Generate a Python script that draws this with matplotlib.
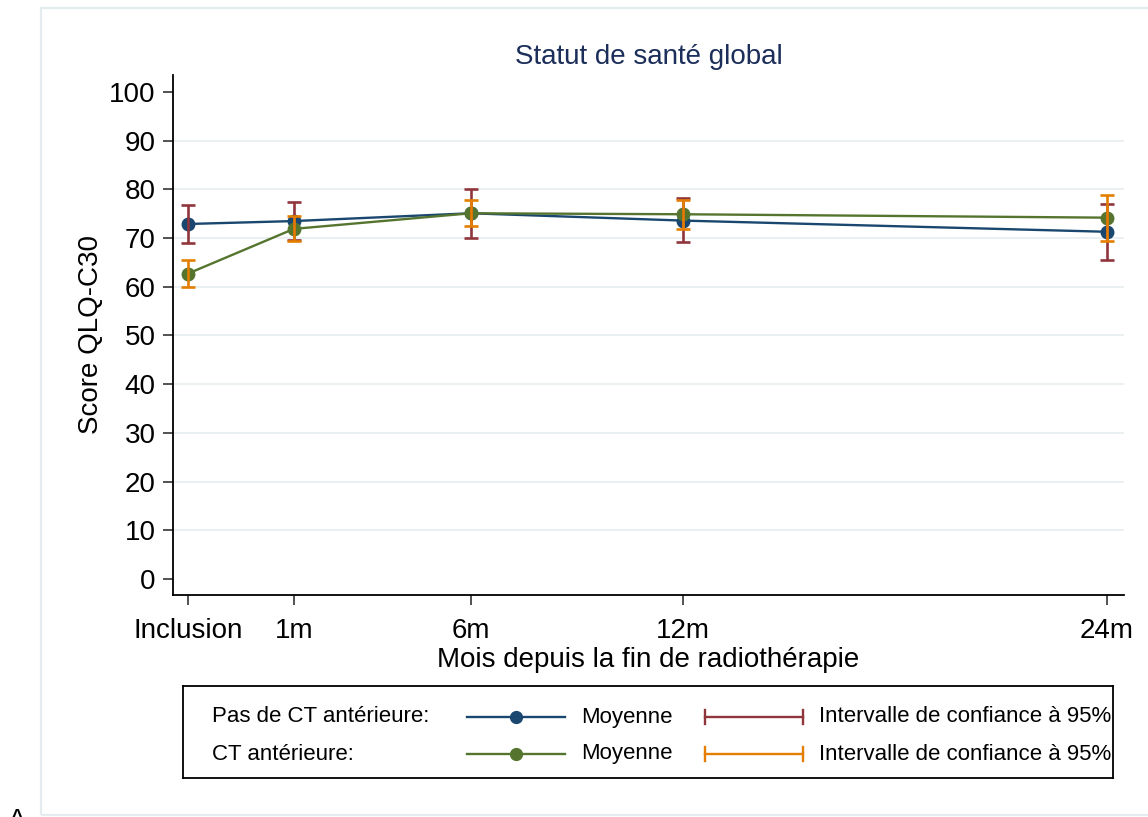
import matplotlib
matplotlib.use("Agg")
import matplotlib.pyplot as plt
from matplotlib.patches import Rectangle
import numpy as np

plt.rcParams['font.family'] = ['Liberation Sans', 'DejaVu Sans']

# data
mois = [-2, 1, 6, 12, 24]
tick_labels = ["Inclusion", "1m", "6m", "12m", "24m"]

# Pas de CT antérieure
moy_sans = [72.9, 73.5, 75.1, 73.6, 71.3]
ic_bas_sans = [68.9, 69.6, 70.0, 69.1, 65.5]
ic_haut_sans = [76.9, 77.4, 80.1, 78.2, 77.1]

# CT antérieure
moy_ct = [62.7, 71.9, 75.1, 74.9, 74.2]
ic_bas_ct = [60.0, 69.5, 72.5, 71.9, 69.5]
ic_haut_ct = [65.5, 74.5, 77.8, 77.8, 78.9]

navy = "#1a476f"
green = "#55752f"
maroon = "#90353b"
orange = "#e37e00"
grid_col = "#eaf0f2"

W, H = 1148, 817
fig = plt.figure(figsize=(W / 100, H / 100), dpi=100)

# outer graph region border
fig.patches.append(Rectangle((41 / W, 1 - 815 / H), 1.2, (815 - 8) / H,
                             transform=fig.transFigure, fill=False,
                             edgecolor="#e4ecf0", lw=1.6))

ax = fig.add_axes([173 / W, 1 - 595 / H, (1124 - 173) / W, (595 - 75) / H])

ax.plot(mois, moy_sans, color=navy, lw=1.7, marker="o", ms=9, zorder=3)
ax.plot(mois, moy_ct, color=green, lw=1.7, marker="o", ms=9, zorder=3)

def rcap(x, lo, hi, col):
    x = np.asarray(x, dtype=float)
    lo = np.asarray(lo)
    hi = np.asarray(hi)
    mid = (lo + hi) / 2
    ax.errorbar(x, mid, yerr=[mid - lo, hi - mid], fmt="none", ecolor=col,
                elinewidth=1.9, capsize=5, capthick=1.9, zorder=4)

rcap(mois, ic_bas_sans, ic_haut_sans, maroon)
rcap(mois, ic_bas_ct, ic_haut_ct, orange)

ax.set_xlim(-2.42, 24.48)
ax.set_ylim(-3.3, 103.5)
ax.set_yticks(range(0, 101, 10))
ax.set_xticks(mois)
ax.set_xticklabels(tick_labels)
for v in range(10, 100, 10):
    ax.axhline(v, color=grid_col, lw=1.4, zorder=0)

for s in ["top", "right"]:
    ax.spines[s].set_visible(False)
ax.spines["left"].set_linewidth(1.3)
ax.spines["bottom"].set_linewidth(1.3)
ax.tick_params(axis="both", labelsize=20, width=1.1, length=7.5, color="#222222")
ax.tick_params(axis="y", pad=5)
ax.tick_params(axis="x", pad=9)

ax.set_title("Statut de santé global", fontsize=20, color="#1c2e5a", pad=8)
ax.set_xlabel("Mois depuis la fin de radiothérapie", fontsize=20, labelpad=2)
ax.set_ylabel("Score QLQ-C30", fontsize=20, labelpad=4)

# legend box drawn by hand (Stata style)
lg = fig.add_axes([183 / W, 1 - 778 / H, (1113 - 183) / W, (778 - 686) / H])
lg.set_xlim(0, 930)
lg.set_ylim(92, 0)
lg.set_xticks([])
lg.set_yticks([])
for s in lg.spines.values():
    s.set_linewidth(1.3)

rows = [("Pas de CT antérieure:", navy, maroon, 31),
        ("CT antérieure:", green, orange, 68)]
for label, c_line, c_ci, yy in rows:
    lg.text(29, yy, label, fontsize=16, va="center", ha="left")
    lg.plot([284, 382], [yy, yy], color=c_line, lw=1.7)
    lg.plot([333], [yy], marker="o", ms=8.5, color=c_line)
    lg.text(398, yy, "Moyenne", fontsize=16, va="center", ha="left")
    lg.plot([522, 620], [yy, yy], color=c_ci, lw=1.7)
    lg.plot([522, 522], [yy - 7, yy + 7], color=c_ci, lw=1.7)
    lg.plot([620, 620], [yy - 7, yy + 7], color=c_ci, lw=1.7)
    lg.text(636, yy, "Intervalle de confiance à 95%", fontsize=16,
            va="center", ha="left")

# panel letter, cut off by the lower edge as in the source
fig.text(17 / W, 1 - 808 / H, "A", fontsize=20, va="top", ha="center")

fig.savefig("out.png", dpi=100)
